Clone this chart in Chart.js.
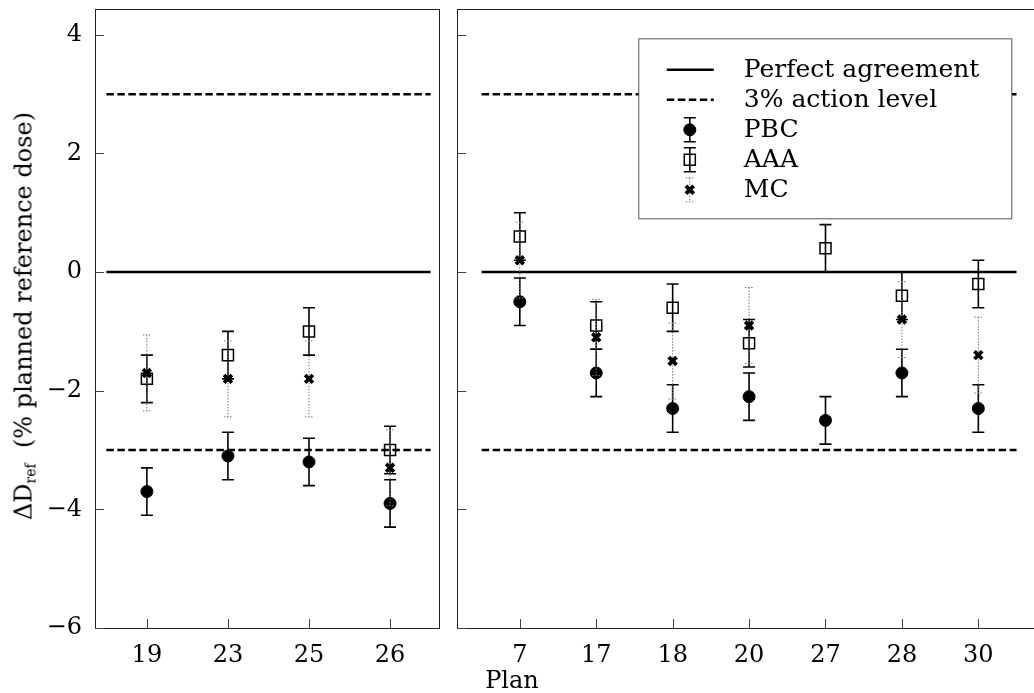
<!DOCTYPE html>
<html>
<head>
<meta charset="utf-8">
<script src="https://cdn.jsdelivr.net/npm/chart.js@4.4.0/dist/chart.umd.min.js"></script>
<style>
  html, body { margin: 0; padding: 0; background: #fff; overflow: hidden; }
  body { width: 1034px; height: 693px; position: relative; font-family: "DejaVu Serif", serif; color: #000; }
  #boxL { position: absolute; left: 0; top: 0; }
  #boxR { position: absolute; left: 448px; top: 0; }
  .ytitle { position: absolute; left: 24px; top: 316px; transform: translate(-50%, -50%) rotate(-90deg);
            white-space: nowrap; font-size: 24px; }
  .ytitle sub { font-size: 14px; vertical-align: -4px; }
  .xtitle { position: absolute; left: 512px; top: 680px; transform: translate(-50%, -50%); font-size: 24px; }
</style>
</head>
<body>
<canvas id="boxL" width="448" height="693"></canvas>
<canvas id="boxR" width="600" height="693"></canvas>
<div class="ytitle">ΔD<sub>ref</sub>&nbsp;&nbsp;(% planned reference dose)</div>
<div class="xtitle">Plan</div>
<script>
// plans in each panel
const leftPlans = ['19', '23', '25', '26'];
const rightPlans = ['7', '17', '18', '20', '27', '28', '30'];

// dose difference values (%)
const leftPBC = [-3.7, -3.1, -3.2, -3.9];
const leftAAA = [-1.8, -1.4, -1.0, -3.0];
const leftMC = [-1.7, -1.8, -1.8, -3.3];
const rightPBC = [-0.5, -1.7, -2.3, -2.1, -2.5, -1.7, -2.3];
const rightAAA = [0.6, -0.9, -0.6, -1.2, 0.4, -0.4, -0.2];
const rightMC = [0.2, -1.1, -1.5, -0.9, null, -0.8, -1.4];

// uncertainties
const leftErrPBC = [0.4, 0.4, 0.4, 0.4];
const leftErrAAA = [0.4, 0.4, 0.4, 0.4];
const leftErrMC = [0.64, 0.64, 0.64, 0.64];
const rightErrPBC = [0.4, 0.4, 0.4, 0.4, 0.4, 0.4, 0.4];
const rightErrAAA = [0.4, 0.4, 0.4, 0.4, 0.4, 0.4, 0.4];
const rightErrMC = [0.64, 0.64, 0.64, 0.64, 0.64, 0.64, 0.64];

const yTicks = [-6, -4, -2, 0, 2, 4];
const agreement = 0;
const actionLevel = 3;

Chart.defaults.font.family = 'DejaVu Serif';
Chart.defaults.font.size = 24;
Chart.defaults.color = '#000';

function points(vals, errs) {
    return vals.map((v, i) => v === null ? null : { x: i, y: v, e: errs[i] }).filter(p => p);
}

function hline(plans, y) {
    return [{ x: -0.5, y: y }, { x: plans.length - 0.5, y: y }];
}

function noPad(s) {
    s.paddingTop = 0; s.paddingBottom = 0; s.paddingLeft = 0; s.paddingRight = 0;
}

// error bars drawn just below each series' markers
const errorBars = {
    id: 'errorBars',
    beforeDatasetDraw(chart, args) {
        const ds = chart.data.datasets[args.index];
        if (!ds.errStyle) return;
        const st = ds.errStyle;
        const yS = chart.scales.y;
        const ctx = chart.ctx;
        ctx.save();
        ctx.strokeStyle = st.color;
        ctx.lineWidth = st.width;
        ctx.setLineDash(st.dash);
        args.meta.data.forEach((el, i) => {
            const p = ds.data[i];
            const top = yS.getPixelForValue(p.y + p.e);
            const bot = yS.getPixelForValue(p.y - p.e);
            ctx.beginPath();
            ctx.moveTo(el.x, top); ctx.lineTo(el.x, bot);
            ctx.moveTo(el.x - st.cap, top); ctx.lineTo(el.x + st.cap, top);
            ctx.moveTo(el.x - st.cap, bot); ctx.lineTo(el.x + st.cap, bot);
            ctx.stroke();
        });
        ctx.restore();
    }
};

// box around the axes and inward ticks
const frame = {
    id: 'frame',
    beforeDatasetsDraw(chart) {
        const ctx = chart.ctx;
        const a = chart.chartArea;
        const xs = chart.scales.x, ys = chart.scales.y;
        ctx.save();
        ctx.strokeStyle = '#222';
        ctx.lineWidth = 1;
        ctx.strokeRect(Math.round(a.left) + 0.5, Math.round(a.top) + 0.5,
            Math.round(a.right - a.left), Math.round(a.bottom - a.top));
        ctx.strokeStyle = '#444';
        ctx.beginPath();
        ys.ticks.forEach(t => {
            const py = Math.round(ys.getPixelForValue(t.value)) + 0.5;
            ctx.moveTo(a.left, py); ctx.lineTo(a.left + 9, py);
        });
        xs.ticks.forEach(t => {
            const px = Math.round(xs.getPixelForValue(t.value)) + 0.5;
            ctx.moveTo(px, a.bottom); ctx.lineTo(px, a.bottom - 9);
        });
        ctx.stroke();
        ctx.restore();
    }
};

// legend box in the upper right of the right panel
const legendOrder = ['Perfect agreement', '3% action level', 'PBC', 'AAA', 'MC'];
const legendBox = {
    id: 'legendBox',
    afterDraw(chart) {
        if (!chart.options.plugins.legendBox.show) return;
        const ctx = chart.ctx;
        const a = chart.chartArea;
        const x0 = a.left + 181.5, y0 = a.top + 29.5, w = 373, h = 180;
        ctx.save();
        ctx.fillStyle = '#fff';
        ctx.fillRect(x0, y0, w, h);
        ctx.strokeStyle = '#555';
        ctx.lineWidth = 1;
        ctx.strokeRect(x0, y0, w, h);
        const items = legendOrder.map(l => chart.data.datasets.find(d => d.inLegend && d.label === l));
        const cx = x0 + 51;
        items.forEach((d, k) => {
            const cy = y0 + 31 + k * 30;
            ctx.save();
            if (d.showLine) {
                ctx.strokeStyle = d.borderColor;
                ctx.lineWidth = d.borderWidth;
                ctx.setLineDash(d.borderDash || []);
                ctx.beginPath();
                ctx.moveTo(cx - 23, cy); ctx.lineTo(cx + 24, cy);
                ctx.stroke();
            } else {
                const st = d.errStyle;
                ctx.strokeStyle = st.color;
                ctx.lineWidth = st.width;
                ctx.setLineDash(st.dash);
                ctx.beginPath();
                ctx.moveTo(cx, cy - 12); ctx.lineTo(cx, cy + 12);
                ctx.moveTo(cx - st.cap, cy - 12); ctx.lineTo(cx + st.cap, cy - 12);
                ctx.moveTo(cx - st.cap, cy + 12); ctx.lineTo(cx + st.cap, cy + 12);
                ctx.stroke();
                ctx.setLineDash([]);
                ctx.fillStyle = d.backgroundColor;
                ctx.strokeStyle = d.borderColor;
                ctx.lineWidth = d.borderWidth;
                Chart.helpers.drawPoint(ctx, { pointStyle: d.pointStyle, radius: d.pointRadius, rotation: 0, borderWidth: d.borderWidth }, cx, cy);
            }
            ctx.restore();
            ctx.fillStyle = '#000';
            ctx.font = '25px "DejaVu Serif"';
            ctx.textBaseline = 'middle';
            ctx.textAlign = 'left';
            ctx.fillText(d.label, x0 + 105, cy + 1);
        });
        ctx.restore();
    }
};

function makeChart(id, plans, pbc, aaa, mc, ePBC, eAAA, eMC, xMin, xMax, isLeft) {
    return new Chart(document.getElementById(id), {
        type: 'scatter',
        data: {
            datasets: [{
                label: 'MC',
                data: points(mc, eMC),
                pointStyle: 'crossRot',
                pointRadius: 5.5,
                borderWidth: 3.8,
                borderColor: '#000',
                backgroundColor: '#000',
                errStyle: { color: '#777', width: 1, dash: [1.5, 1.5], cap: 4 },
                inLegend: true,
                order: 1
            }, {
                label: 'AAA',
                data: points(aaa, eAAA),
                pointStyle: 'rect',
                pointRadius: 7.8,
                borderWidth: 1.5,
                borderColor: '#000',
                backgroundColor: 'rgba(0,0,0,0)',
                errStyle: { color: '#000', width: 1.6, dash: [], cap: 6 },
                inLegend: true,
                order: 2
            }, {
                label: 'PBC',
                data: points(pbc, ePBC),
                pointStyle: 'circle',
                pointRadius: 6,
                borderWidth: 1,
                borderColor: '#000',
                backgroundColor: '#000',
                errStyle: { color: '#000', width: 1.6, dash: [], cap: 6 },
                inLegend: true,
                order: 3
            }, {
                label: '3% action level',
                data: hline(plans, actionLevel),
                showLine: true,
                borderColor: '#000',
                borderWidth: 2.5,
                borderDash: [7.5, 3.5],
                pointRadius: 0,
                inLegend: true,
                order: 8
            }, {
                label: '3% action level',
                data: hline(plans, -actionLevel),
                showLine: true,
                borderColor: '#000',
                borderWidth: 2.5,
                borderDash: [7.5, 3.5],
                pointRadius: 0,
                order: 9
            }, {
                label: 'Perfect agreement',
                data: hline(plans, agreement),
                showLine: true,
                borderColor: '#000',
                borderWidth: 2.5,
                pointRadius: 0,
                inLegend: true,
                order: 10
            }]
        },
        options: {
            responsive: false,
            animation: false,
            events: [],
            layout: { padding: isLeft ? { top: 3, right: 5, left: 0, bottom: 0 } : { top: 3, right: 6, left: 8, bottom: 0 } },
            plugins: {
                legend: { display: false },
                tooltip: { enabled: false },
                legendBox: { show: !isLeft }
            },
            scales: {
                x: {
                    type: 'linear',
                    bounds: 'data',
                    min: xMin,
                    max: xMax,
                    afterBuildTicks: s => { s.ticks = plans.map((p, i) => ({ value: i })); },
                    afterFit: s => { s.height = 65; noPad(s); },
                    grid: { display: false, drawTicks: false },
                    border: { display: false },
                    ticks: {
                        padding: 13,
                        maxRotation: 0,
                        autoSkip: false,
                        callback: v => plans[v]
                    }
                },
                y: {
                    type: 'linear',
                    bounds: 'data',
                    min: -6,
                    max: 4.43,
                    afterBuildTicks: s => { s.ticks = yTicks.map(v => ({ value: v })); },
                    afterFit: s => { s.width = isLeft ? 95 : 0; noPad(s); },
                    grid: { display: false, drawTicks: false },
                    border: { display: false },
                    ticks: {
                        display: isLeft,
                        padding: 13,
                        callback: v => v < 0 ? '\u2212' + Math.abs(v) : String(v)
                    }
                }
            }
        },
        plugins: [errorBars, frame, legendBox]
    });
}

makeChart('boxL', leftPlans, leftPBC, leftAAA, leftMC, leftErrPBC, leftErrAAA, leftErrMC, -0.64, 3.6, true);
makeChart('boxR', rightPlans, rightPBC, rightAAA, rightMC, rightErrPBC, rightErrAAA, rightErrMC, -0.818, 6.79, false);
</script>
</body>
</html>
